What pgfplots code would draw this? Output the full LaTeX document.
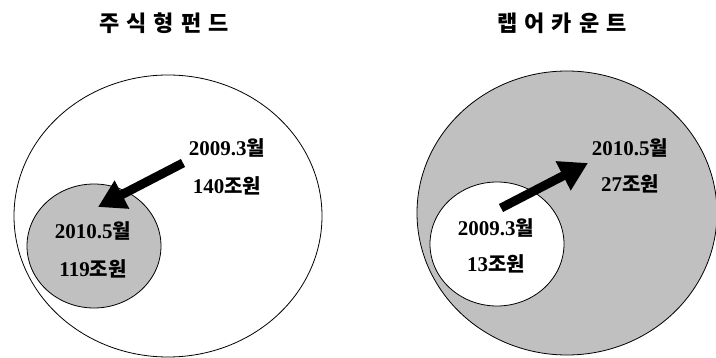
\documentclass[border=0pt]{standalone}
\usepackage{fontspec}
\setmainfont{Liberation Serif}
\newfontfamily\kr{Noto Sans CJK KR}
\usepackage{pgfplots}
\pgfplotsset{compat=1.18}
\usetikzlibrary{arrows.meta}
\definecolor{bub}{RGB}{192,192,192}
\newcommand{\lab}[2]{{\fontsize{21}{24}\selectfont\bfseries #1{\kr\bfseries\fontsize{20}{24}\selectfont #2}}}
\newcommand{\ttl}[1]{{\kr\bfseries\fontsize{22}{26}\selectfont #1}}
\begin{document}
\begin{tikzpicture}
\begin{axis}[width=716pt,height=358pt,scale only axis,
  xmin=0,xmax=716,ymin=0,ymax=358,y dir=reverse,hide axis]
\path (axis cs:0,0) rectangle (axis cs:716,358);
% left panel
\draw[black,line width=0.8pt,fill=white] (axis cs:168,216) ellipse [x radius=154, y radius=141];
\draw[black,line width=0.8pt,fill=bub] (axis cs:94,246) ellipse [x radius=67, y radius=62];
\draw[line width=9pt,-{Triangle[length=27pt,width=30pt]}] (axis cs:183,163) -- (axis cs:98,207);
\node at (axis cs:164,23) {\ttl{주\hspace{7pt}식\hspace{7pt}형\hspace{7pt}펀\hspace{7pt}드}};
\node at (axis cs:227,148) {\lab{2009.3}{월}};
\node at (axis cs:227,186) {\lab{140}{조원}};
\node at (axis cs:93,231) {\lab{2010.5}{월}};
\node at (axis cs:93,269) {\lab{119}{조원}};
% right panel
\draw[black,line width=0.8pt,fill=bub] (axis cs:567,213) ellipse [x radius=150, y radius=142];
\draw[black,line width=0.8pt,fill=white] (axis cs:497,244) ellipse [x radius=67, y radius=62];
\draw[line width=9pt,-{Triangle[length=28pt,width=31pt]}] (axis cs:501,208) -- (axis cs:588,163);
\node at (axis cs:562,23) {\ttl{랩\hspace{7pt}어\hspace{7pt}카\hspace{7pt}운\hspace{7pt}트}};
\node at (axis cs:630,148) {\lab{2010.5}{월}};
\node at (axis cs:630,184) {\lab{27}{조원}};
\node at (axis cs:496,228) {\lab{2009.3}{월}};
\node at (axis cs:496,264) {\lab{13}{조원}};
\end{axis}
\end{tikzpicture}
\end{document}
